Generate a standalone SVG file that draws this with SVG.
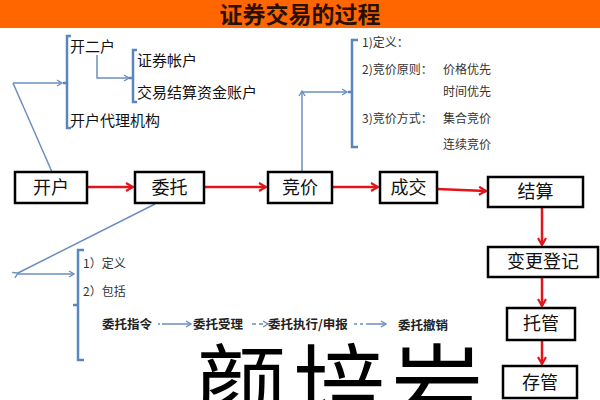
<svg xmlns="http://www.w3.org/2000/svg" width="600" height="400" viewBox="0 0 600 400">
<style>
.cjk{font-family:"Noto Sans CJK SC","Noto Sans",sans-serif}
.box{fill:#fff;stroke:#000;stroke-width:2.5}
.lbl{font-size:18px;fill:#111;text-anchor:middle}
.red{stroke:#e3141b;stroke-width:2.5;fill:none}
.blue{stroke:#6a8fbf;stroke-width:1.5;fill:none}
.brace{stroke:#5b86bd;stroke-width:2.5;fill:none}
.t15{font-size:15px;fill:#111}
.t12{font-size:12px;fill:#333}
.b13{font-size:12.5px;font-weight:bold;fill:#222}
</style>
<defs>
<marker id="ra" markerWidth="10" markerHeight="10" refX="8" refY="5" orient="auto" markerUnits="userSpaceOnUse">
<path d="M1,1 L8,5 L1,9" fill="none" stroke="#e3141b" stroke-width="2.2"/>
</marker>
<marker id="ba" markerWidth="8" markerHeight="8" refX="6" refY="4" orient="auto" markerUnits="userSpaceOnUse">
<path d="M1,1 L6,4 L1,7" fill="none" stroke="#6a8fbf" stroke-width="1.4"/>
</marker>
<marker id="bs" markerWidth="8" markerHeight="8" refX="2" refY="4" orient="auto" markerUnits="userSpaceOnUse">
<path d="M7,1 L2,4 L7,7" fill="none" stroke="#6a8fbf" stroke-width="1.4"/>
</marker>
</defs>
<rect x="0" y="0" width="600" height="28" fill="#ff6600"/>
<text class="cjk" x="300" y="23" font-size="23" font-weight="bold" fill="#2a1000" text-anchor="middle">证券交易的过程</text>

<text class="cjk" x="195" y="421" font-size="92" fill="#000" letter-spacing="6">颜培岩</text>

<g id="connectors">
<line class="red" x1="87" y1="187" x2="133" y2="187" marker-end="url(#ra)"/>
<line class="red" x1="204" y1="187" x2="266" y2="187" marker-end="url(#ra)"/>
<line class="red" x1="332" y1="187" x2="378" y2="187" marker-end="url(#ra)"/>
<line class="red" x1="437" y1="189" x2="486" y2="191" marker-end="url(#ra)"/>
<line class="red" x1="542" y1="207" x2="542" y2="245" marker-end="url(#ra)"/>
<line class="red" x1="542" y1="277" x2="542" y2="306" marker-end="url(#ra)"/>
<line class="red" x1="542" y1="340" x2="542" y2="364" marker-end="url(#ra)"/>
<line class="blue" x1="52" y1="172" x2="13" y2="83"/>
<line class="blue" x1="13" y1="83" x2="62" y2="83" marker-end="url(#ba)"/>
<polyline class="blue" points="97,55 97,78 129,78" marker-end="url(#ba)"/>
<polyline class="blue" points="302,172 302,91" marker-end="url(#ba)"/>
<line class="blue" x1="302" y1="92" x2="347" y2="92" marker-end="url(#ba)"/>
<line class="blue" x1="155" y1="204" x2="18" y2="273" marker-end="url(#bs)"/>
<line class="blue" x1="18" y1="274" x2="74" y2="274" marker-end="url(#ba)"/>
<line class="blue" x1="158" y1="324" x2="191" y2="324" marker-end="url(#ba)" stroke-dasharray="2,2 30,0"/>
<line class="blue" x1="252" y1="324" x2="268" y2="324" marker-end="url(#ba)" stroke-dasharray="4,3"/>
<line class="blue" x1="354" y1="324" x2="386" y2="324" marker-end="url(#ba)" stroke-dasharray="3,3 3,3 30,0"/>
</g>

<g id="brace1"><path class="brace" d="M71,36 H67 V128 H71 M67,83 H63"/></g>
<g id="brace2"><path class="brace" d="M137,50 H133 V102 H137 M133,78 H129"/></g>
<g id="brace3"><path class="brace" d="M358,40 H352 V147 H358 M352,92 H348"/></g>
<g id="brace4"><path class="brace" d="M84,250 H78 V360 H84 M78,305 H73"/></g>

<g id="open-detail" class="cjk">
<text class="t15" x="70" y="52">开二户</text>
<text class="t15" x="137" y="66">证券帐户</text>
<text class="t15" x="137" y="98">交易结算资金账户</text>
<text class="t15" x="70" y="126">开户代理机构</text>
</g>

<g id="bid-detail" class="cjk">
<text class="t12" x="362" y="47">1)定义：</text>
<text class="t12" x="362" y="74">2)竞价原则：</text>
<text class="t12" x="443" y="74">价格优先</text>
<text class="t12" x="443" y="96">时间优先</text>
<text class="t12" x="362" y="123">3)竞价方式：</text>
<text class="t12" x="443" y="123">集合竞价</text>
<text class="t12" x="443" y="149">连续竞价</text>
</g>

<g id="entrust-detail" class="cjk">
<text class="t12" x="83" y="268">1）定义</text>
<text class="t12" x="83" y="296">2）包括</text>
<text class="b13" x="102" y="329">委托指令</text>
<text class="b13" x="193" y="329">委托受理</text>
<text class="b13" x="268" y="329">委托执行/申报</text>
<text class="b13" x="398" y="330" font-size="15">委托撤销</text>
</g>

<g id="n-kaihu"><rect class="box" x="15" y="172" width="72" height="31"/><text class="cjk lbl" x="51" y="194">开户</text></g>
<g id="n-weituo"><rect class="box" x="135" y="172" width="69" height="31"/><text class="cjk lbl" x="169.5" y="194">委托</text></g>
<g id="n-jingjia"><rect class="box" x="268" y="172" width="64" height="31"/><text class="cjk lbl" x="300" y="194">竞价</text></g>
<g id="n-chengjiao"><rect class="box" x="380" y="172" width="57" height="31"/><text class="cjk lbl" x="408.5" y="194">成交</text></g>
<g id="n-jiesuan"><rect class="box" x="488" y="177" width="95" height="30"/><text class="cjk lbl" x="535.5" y="198">结算</text></g>
<g id="n-biangeng"><rect class="box" x="488" y="247" width="110" height="30"/><text class="cjk lbl" x="543" y="268">变更登记</text></g>
<g id="n-tuoguan"><rect class="box" x="507" y="308" width="68" height="32"/><text class="cjk lbl" x="541" y="330">托管</text></g>
<g id="n-cunguan"><rect class="box" x="503" y="366" width="74" height="32"/><text class="cjk lbl" x="540" y="389">存管</text></g>
</svg>
